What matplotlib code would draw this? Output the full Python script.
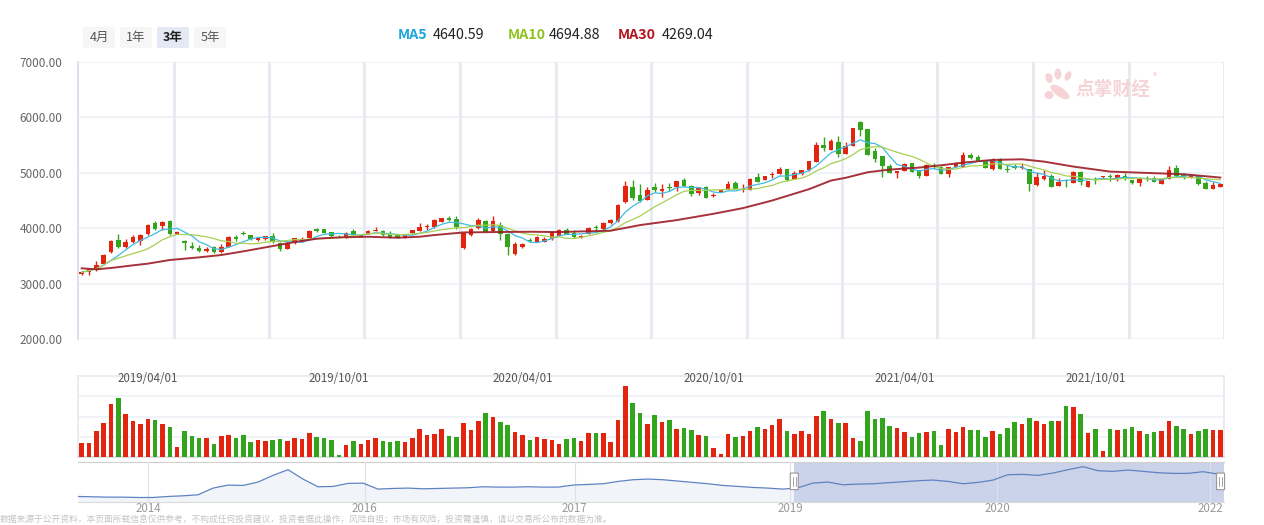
import matplotlib
matplotlib.use('Agg')
import matplotlib.pyplot as plt
import numpy as np
import pandas as pd
from matplotlib.patches import FancyBboxPatch, Ellipse

plt.rcParams['font.family'] = ['Noto Sans CJK SC', 'DejaVu Sans']

# ---- weekly candles (3 years) ----
opens = [3180, 3204, 3240, 3360, 3564, 3792, 3654, 3744, 3762, 3888,
         4098, 4044, 4134, 3900, 3774, 3684, 3642, 3582, 3654, 3564,
         3666, 3846, 3918, 3876, 3780, 3798, 3864, 3738, 3630, 3726,
         3762, 3822, 3990, 3984, 3930, 3864, 3822, 3954, 3846, 3894,
         3954, 3954, 3888, 3870, 3822, 3906, 3954, 4020, 4014, 4110,
         4176, 4170, 3636, 3870, 3996, 4128, 3954, 4050, 3900, 3528,
         3654, 3792, 3756, 3750, 3804, 3864, 3966, 3912, 3828, 3894,
         4014, 3978, 4086, 4122, 4464, 4746, 4602, 4506, 4746, 4674,
         4734, 4746, 4866, 4758, 4638, 4740, 4590, 4662, 4698, 4818,
         4698, 4698, 4926, 4872, 4956, 4980, 5064, 4896, 4974, 5046,
         5202, 5496, 5418, 5550, 5346, 5490, 5910, 5790, 5394, 5304,
         5124, 5004, 5040, 5178, 5046, 4950, 5148, 5106, 4986, 5106,
         5112, 5322, 5280, 5214, 5076, 5250, 5070, 5124, 5088, 5070,
         4782, 4884, 4938, 4770, 4860, 4824, 5010, 4752, 4878, 4920,
         4938, 4902, 4944, 4872, 4824, 4908, 4914, 4806, 4896, 5094,
         4956, 4926, 4950, 4818, 4716, 4752]
closes = [3204, 3264, 3342, 3522, 3762, 3654, 3756, 3846, 3876, 4062,
          3978, 4116, 3888, 3936, 3732, 3636, 3582, 3630, 3564, 3666,
          3846, 3804, 3900, 3804, 3816, 3852, 3750, 3630, 3714, 3822,
          3810, 3954, 3954, 3918, 3852, 3852, 3906, 3882, 3876, 3954,
          3966, 3870, 3828, 3822, 3888, 3966, 4026, 4032, 4152, 4176,
          4140, 4014, 3906, 3990, 4152, 3936, 4134, 3888, 3654, 3720,
          3720, 3762, 3840, 3810, 3924, 3972, 3894, 3834, 3864, 4002,
          4002, 4098, 4152, 4422, 4764, 4542, 4494, 4692, 4698, 4710,
          4722, 4848, 4758, 4626, 4722, 4554, 4602, 4692, 4800, 4716,
          4710, 4890, 4836, 4944, 4968, 5076, 4872, 4992, 5046, 5214,
          5502, 5454, 5580, 5340, 5478, 5808, 5766, 5328, 5256, 5130,
          4998, 5034, 5160, 5022, 4944, 5142, 5118, 4986, 5106, 5154,
          5322, 5268, 5214, 5088, 5226, 5076, 5058, 5082, 5100, 4806,
          4926, 4950, 4746, 4836, 4848, 5016, 4842, 4848, 4866, 4932,
          4926, 4962, 4914, 4824, 4890, 4896, 4842, 4890, 5046, 4950,
          4944, 4950, 4806, 4716, 4782, 4794]
highs = [3222, 3270, 3414, 3530, 3780, 3900, 3804, 3882, 3890, 4080,
         4134, 4125, 4140, 3954, 3792, 3756, 3702, 3666, 3684, 3714,
         3864, 3870, 3954, 3885, 3840, 3860, 3906, 3745, 3744, 3830,
         3840, 3966, 3995, 3990, 3936, 3882, 3924, 3990, 3882, 3960,
         4020, 3960, 3954, 3876, 3894, 3972, 4086, 4080, 4158, 4182,
         4224, 4212, 3912, 3996, 4188, 4152, 4224, 4104, 3906, 3750,
         3738, 3828, 3864, 3840, 3930, 3990, 4008, 3966, 3876, 4020,
         4062, 4116, 4158, 4428, 4854, 4872, 4800, 4746, 4812, 4800,
         4812, 4854, 4908, 4788, 4728, 4764, 4644, 4698, 4854, 4848,
         4794, 4908, 4998, 4950, 5022, 5100, 5070, 5028, 5052, 5220,
         5556, 5646, 5604, 5664, 5562, 5814, 5940, 5796, 5442, 5310,
         5160, 5040, 5184, 5184, 5052, 5154, 5184, 5130, 5112, 5202,
         5370, 5364, 5322, 5238, 5262, 5274, 5142, 5160, 5172, 5076,
         5022, 5046, 4974, 4902, 4890, 5040, 5034, 4854, 4926, 4950,
         4986, 4986, 4998, 4878, 4896, 4938, 4944, 4896, 5124, 5142,
         4992, 4956, 4956, 4854, 4830, 4812]
lows = [3150, 3160, 3230, 3350, 3550, 3640, 3645, 3735, 3690, 3880,
        3970, 3972, 3880, 3895, 3600, 3630, 3575, 3564, 3558, 3558,
        3660, 3762, 3870, 3780, 3762, 3780, 3732, 3582, 3624, 3720,
        3755, 3815, 3936, 3912, 3846, 3840, 3815, 3876, 3840, 3888,
        3948, 3864, 3822, 3816, 3816, 3900, 3948, 3972, 4008, 4104,
        4134, 3984, 3630, 3864, 3990, 3930, 3948, 3780, 3510, 3522,
        3648, 3744, 3750, 3744, 3786, 3858, 3888, 3828, 3822, 3888,
        3954, 3972, 4080, 4116, 4458, 4500, 4476, 4500, 4650, 4572,
        4674, 4680, 4752, 4578, 4602, 4548, 4572, 4656, 4692, 4710,
        4650, 4692, 4830, 4866, 4902, 4974, 4854, 4890, 4968, 5040,
        5196, 5400, 5412, 5292, 5340, 5484, 5670, 5322, 5190, 4932,
        4992, 4902, 5034, 5016, 4914, 4944, 5064, 4980, 4932, 5100,
        5106, 5244, 5208, 5082, 5058, 5070, 5022, 5076, 5064, 4680,
        4764, 4878, 4740, 4764, 4752, 4818, 4782, 4746, 4806, 4902,
        4848, 4860, 4866, 4806, 4770, 4854, 4836, 4800, 4890, 4932,
        4890, 4902, 4782, 4710, 4710, 4746]
volumes = [42, 42, 78, 102, 159, 177, 129, 108, 99, 114,
           111, 99, 90, 30, 78, 63, 57, 57, 39, 63,
           66, 57, 66, 45, 51, 48, 51, 54, 48, 57,
           54, 72, 60, 57, 51, 6, 36, 48, 39, 51,
           57, 48, 45, 48, 45, 57, 84, 66, 69, 84,
           63, 60, 102, 81, 108, 132, 120, 105, 96, 75,
           66, 51, 60, 54, 51, 39, 54, 57, 48, 72,
           72, 72, 45, 111, 213, 162, 132, 99, 126, 105,
           111, 84, 87, 81, 66, 63, 27, 9, 69, 60,
           63, 78, 90, 84, 96, 114, 78, 69, 78, 69,
           123, 138, 114, 102, 102, 57, 48, 138, 114, 117,
           93, 87, 75, 60, 72, 75, 78, 36, 84, 75,
           90, 81, 81, 60, 78, 69, 87, 105, 99, 117,
           108, 99, 108, 108, 153, 150, 129, 72, 84, 18,
           84, 81, 84, 90, 78, 69, 75, 78, 108, 93,
           84, 69, 78, 84, 81, 80]

# MA30 (week number, value)
ma30_week = [1, 3, 5, 8, 10, 13, 17, 20, 23, 27, 30, 33, 36, 40, 44, 47, 49, 52,
             53, 57, 62, 66, 69, 73, 77, 82, 87, 91, 95, 100, 103, 105, 108, 111,
             115, 118, 121, 125, 129, 132, 136, 141, 146, 151, 156]
ma30_val = [3276, 3258, 3282, 3330, 3360, 3426, 3474, 3516, 3582, 3678, 3750, 3810,
            3834, 3846, 3828, 3846, 3876, 3912, 3924, 3930, 3936, 3930, 3942, 3954,
            4056, 4146, 4260, 4362, 4500, 4704, 4860, 4910, 5010, 5058, 5094, 5136,
            5184, 5232, 5244, 5202, 5112, 5022, 4998, 4974, 4914]

date_labels = ['2019/04/01', '2019/10/01', '2020/04/01', '2020/10/01', '2021/04/01', '2021/10/01']
date_label_week = [10, 36, 61, 87, 113, 139]

legend_names = ['MA5', 'MA10', 'MA30']
legend_values = ['4640.59', '4694.88', '4269.04']
range_buttons = ['4月', '1年', '3年', '5年']

# navigator: full history overview
nav_level = [15, 14, 13, 13, 12, 12, 15, 17, 20, 40, 49, 48, 58, 78, 95, 67, 44, 45, 54, 55,
             37, 39, 40, 38, 39, 40, 41, 44, 43, 43, 44, 43, 43, 49, 51, 53, 60, 65, 67, 65,
             61, 57, 53, 48, 45, 42, 40, 37, 41, 55, 58, 50, 52, 53, 56, 59, 62, 64, 60, 53,
             57, 64, 80, 81, 78, 85, 95, 104, 92, 90, 94, 90, 86, 84, 84, 89, 82]
nav_years = ['2014', '2016', '2017', '2019', '2020', '2022']
nav_year_pos = [4.67, 19.1, 33.1, 47.5, 61.3, 75.5]
zoom_start = 62.5  # percent

RED = '#e3250f'
GREEN = '#33a51c'
GRID = '#eef1f6'

W, H = 1264, 525
fig = plt.figure(figsize=(W / 100, H / 100), dpi=100)


def fx(px):
    return px / W


def fy(py):
    return 1 - py / H


L, R = 78, 1224
ax = fig.add_axes([fx(L), fy(339), fx(R) - fx(L), fy(62) - fy(339)])
axv = fig.add_axes([fx(L), fy(457), fx(R) - fx(L), fy(376) - fy(457)])
axn = fig.add_axes([fx(L), fy(501.5), fx(R) - fx(L), fy(462) - fy(501.5)])

o = np.array(opens, float)
c = np.array(closes, float)
n = len(c)
x = np.arange(n)
col = np.where(c >= o, RED, GREEN)

# ---- price panel ----
ax.vlines(x, lows, highs, colors=col, lw=1.0, zorder=3)
ax.bar(x, np.maximum(np.abs(c - o), 14), bottom=np.minimum(o, c), width=0.62,
       color=col, lw=0, zorder=4)
s = pd.Series(c)
ax.plot(x, s.rolling(5, min_periods=1).mean(), color='#3fbbe3', lw=0.9, zorder=5)
ax.plot(x, s.rolling(10, min_periods=1).mean(), color='#a8cf52', lw=0.9, zorder=5)
ax.plot(np.array(ma30_week) - 1, ma30_val, color='#9d1c25', lw=1.4, alpha=0.9, zorder=5)

ax.set_xlim(-0.5, n - 0.5)
ax.set_ylim(2000, 7000)
ax.set_yticks(range(2000, 7001, 1000))
ax.set_yticklabels(['%.2f' % v for v in range(2000, 7001, 1000)])
ax.tick_params(axis='y', length=0, pad=11, labelsize=8.5, labelcolor='#666666')
ax.set_xticks([])
for v in range(2000, 7001, 1000):
    ax.axhline(v, color=GRID, lw=1.3, zorder=0)
for k in range(1, 13):
    ax.axvline(-0.5 + 13 * k, color='#e6e9f1', lw=2, zorder=0)
for sp in ['top', 'right', 'bottom']:
    ax.spines[sp].set_visible(False)
ax.spines['left'].set_color('#d3dae7')
ax.spines['left'].set_linewidth(1.2)

# ---- volume panel ----
axv.bar(x, volumes, width=0.62, color=col, lw=0, zorder=3)
axv.set_xlim(-0.5, n - 0.5)
axv.set_ylim(0, 244)
for v in [61, 122, 183]:
    axv.axhline(v, color=GRID, lw=1.3, zorder=0)
axv.set_xticks([])
axv.set_yticks([])
for sp in ['top', 'left', 'right']:
    axv.spines[sp].set_color('#e8ebf2')
    axv.spines[sp].set_linewidth(1.3)
axv.spines['bottom'].set_color('#d5d9e2')
axv.spines['bottom'].set_linewidth(1.3)
for lab, wk in zip(date_labels, date_label_week):
    axv.text(wk - 1, 0.975, lab, transform=axv.get_xaxis_transform(), ha='center',
             va='center', fontsize=8.3, color='#555555', zorder=6)

# ---- navigator ----
nx = np.arange(len(nav_level))
xmax = nx[-1] + 0.4
axn.fill_between(nx, 0, nav_level, color='#f1f4f9', lw=0, zorder=1)
axn.axvspan(xmax * zoom_start / 100, xmax, color='#cad3e9', lw=0, zorder=2)
axn.plot(nx, nav_level, color='#5f83c2', lw=0.9, zorder=4)
axn.set_xlim(0, xmax)
axn.set_ylim(0, 118)
axn.set_yticks([])
axn.set_xticks(nav_year_pos)
axn.set_xticklabels(nav_years)
axn.tick_params(axis='x', length=0, pad=0.5, labelsize=8.3, labelcolor='#999999')
for p in nav_year_pos:
    axn.axvline(p, color='#dde1e8', lw=0.8, zorder=3)
for sp in ['left', 'right']:
    axn.spines[sp].set_visible(False)
axn.spines['top'].set_color('#cfcfcf')
axn.spines['bottom'].set_color('#dadada')
for hx in [zoom_start / 100, 0.997]:
    axn.add_patch(FancyBboxPatch((hx - 0.0035, 0.3), 0.007, 0.42, boxstyle='round,pad=0,rounding_size=0.002',
                                 transform=axn.transAxes, fc='white', ec='#999999', lw=0.8, zorder=6,
                                 clip_on=False))
    axn.plot([hx - 0.0012, hx - 0.0012], [0.4, 0.62], transform=axn.transAxes, color='#999999',
             lw=0.6, zorder=7, clip_on=False)
    axn.plot([hx + 0.0012, hx + 0.0012], [0.4, 0.62], transform=axn.transAxes, color='#999999',
             lw=0.6, zorder=7, clip_on=False)

# ---- overlay: buttons, legend, watermark, footer ----
ov = fig.add_axes([0, 0, 1, 1], zorder=10)
ov.set_xlim(0, W)
ov.set_ylim(H, 0)
ov.axis('off')
ov.patch.set_alpha(0)

bx = [83, 120, 157, 194]
for i, (lab, b) in enumerate(zip(range_buttons, bx)):
    active = lab == '3年'
    ov.add_patch(FancyBboxPatch((b, 27), 32, 21, boxstyle='round,pad=0,rounding_size=2',
                                fc='#e4e9f4' if active else '#f6f6f6', ec='none'))
    ov.text(b + 16, 37.5, lab, ha='center', va='center', fontsize=9,
            color='#222222' if active else '#555555', fontweight='bold' if active else 'normal')

leg_colors = ['#1ba6d8', '#8fc31f', '#b3141f']
name_x = [398, 508, 618]
val_x = [433, 549, 662]
for nm, vv, cc, xn, xv in zip(legend_names, legend_values, leg_colors, name_x, val_x):
    ov.text(xn, 35, nm, ha='left', va='center', fontsize=10.3, color=cc, fontweight='bold')
    ov.text(xv, 35, vv, ha='left', va='center', fontsize=10.3, color='#222222')

# watermark logo
pink = '#f4cfd3'
for (ex, ey, ew, eh, ang) in [(1049, 78, 7, 10, -20), (1058, 74, 7, 11, 0), (1068, 76, 6, 10, 25),
                              (1060, 92, 22, 9, 35), (1049, 95, 9, 8, 0)]:
    ov.add_patch(Ellipse((ex, ey), ew, eh, angle=ang, fc=pink, ec='none', alpha=0.9))
ov.text(1113, 89, '点掌财经', ha='center', va='center', fontsize=13.5, fontweight='bold',
        color=pink, alpha=0.9)
ov.text(1155, 77, '®', ha='center', va='center', fontsize=6, color=pink)

ov.text(0, 525, '数据来源于公开资料，本页面所载信息仅供参考，不构成任何投资建议，投资者据此操作，风险自担；'
                '市场有风险，投资需谨慎，请以交易所公布的数据为准。',
        ha='left', va='bottom', fontsize=6.3, color='#c4c4c4')

fig.savefig('out.png', dpi=100)
